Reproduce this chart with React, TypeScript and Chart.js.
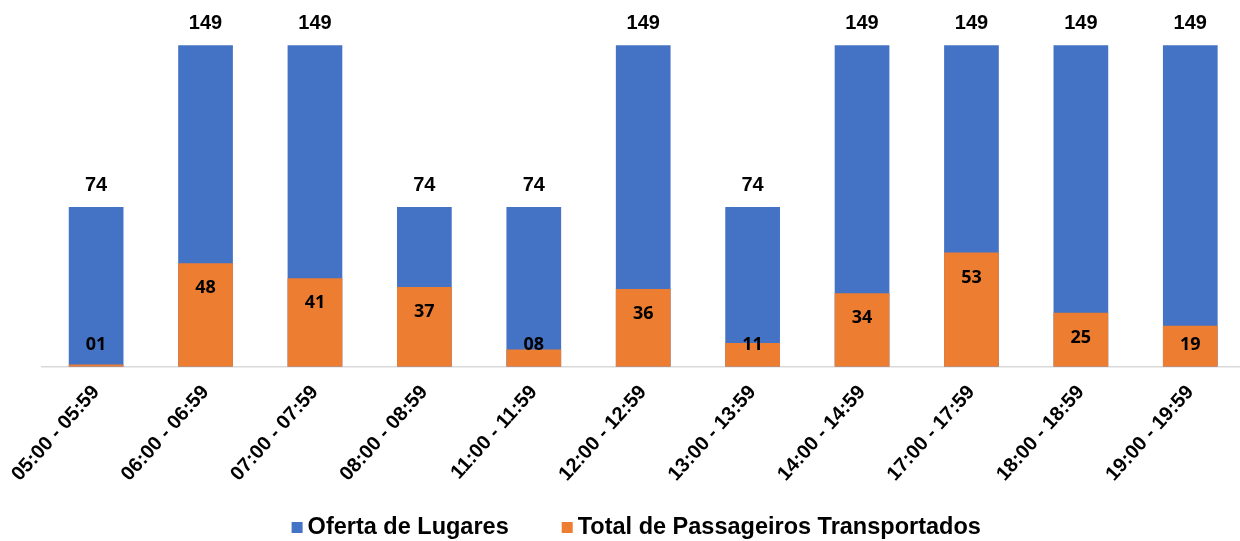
import React, { useEffect, useRef } from "react";
import { Chart, registerables } from "chart.js";

Chart.register(...registerables);

const categories = [
  "05:00 - 05:59",
  "06:00 - 06:59",
  "07:00 - 07:59",
  "08:00 - 08:59",
  "11:00 - 11:59",
  "12:00 - 12:59",
  "13:00 - 13:59",
  "14:00 - 14:59",
  "17:00 - 17:59",
  "18:00 - 18:59",
  "19:00 - 19:59",
];
const ofertaLugares = [74, 149, 149, 74, 74, 149, 74, 149, 149, 149, 149];
const passageirosTransportados = [1, 48, 41, 37, 8, 36, 11, 34, 53, 25, 19];
const seriesNames = ["Oferta de Lugares", "Total de Passageiros Transportados"];

const BLUE = "#4472C4";
const ORANGE = "#ED7D31";
const seriesColors = [BLUE, ORANGE];

const labelsPlugin = {
  id: "valueLabels",
  afterDatasetsDraw(chart: any) {
    const ctx = chart.ctx;
    const yScale = chart.scales.y;
    const base = yScale.getPixelForValue(0);
    ctx.save();
    ctx.fillStyle = "#000";
    ctx.textAlign = "center";
    ctx.textBaseline = "middle";
    const m0 = chart.getDatasetMeta(0);
    ctx.font = "bold 20px 'Liberation Sans', Arial, sans-serif";
    m0.data.forEach((bar: any, i: number) => {
      ctx.fillText(String(ofertaLugares[i]), bar.x, bar.y - 22);
    });
    const m1 = chart.getDatasetMeta(1);
    ctx.font = "bold 18px 'Noto Sans', sans-serif";
    m1.data.forEach((bar: any, i: number) => {
      const v = passageirosTransportados[i];
      const txt = v < 10 ? "0" + v : String(v);
      const y = Math.min(bar.y + 25, base - 22);
      ctx.fillText(txt, bar.x, y);
    });
    ctx.restore();
  },
};

const legendPlugin = {
  id: "customLegend",
  afterDraw(chart: any) {
    const ctx = chart.ctx;
    const area = chart.chartArea;
    ctx.save();
    ctx.font = "bold 23.5px 'Liberation Sans', Arial, sans-serif";
    const box = 11;
    const textOff = 16;
    const gap = 53;
    const widths = seriesNames.map((n) => ctx.measureText(n).width);
    const total = widths.reduce((a, b) => a + b, 0) + textOff * seriesNames.length + gap * (seriesNames.length - 1);
    let x = (area.left + area.right) / 2 - 7 - total / 2;
    const baseline = chart.height - 7;
    ctx.textAlign = "left";
    ctx.textBaseline = "alphabetic";
    seriesNames.forEach((n, i) => {
      ctx.fillStyle = seriesColors[i];
      ctx.fillRect(x, baseline - 12, box, box);
      ctx.fillStyle = "#000";
      ctx.fillText(n, x + textOff, baseline);
      x += textOff + widths[i] + gap;
    });
    ctx.restore();
  },
};

export default function App() {
  const ref = useRef<HTMLCanvasElement | null>(null);
  useEffect(() => {
    document.body.style.margin = "0";
    const canvas = ref.current!;
    const chart = new Chart(canvas, {
      type: "bar",
      data: {
        labels: categories,
        datasets: [
          {
            label: seriesNames[0],
            data: ofertaLugares,
            backgroundColor: BLUE,
            grouped: false,
            order: 1,
            barPercentage: 1,
            categoryPercentage: 0.5,
          },
          {
            label: seriesNames[1],
            data: passageirosTransportados,
            backgroundColor: ORANGE,
            grouped: false,
            order: 0,
            barPercentage: 1,
            categoryPercentage: 0.5,
          },
        ],
      },
      options: {
        responsive: false,
        animation: false,
        devicePixelRatio: 1,
        layout: { padding: { left: 39, right: 5, top: 0, bottom: 41 } },
        scales: {
          x: {
            offset: true,
            grid: { display: false, drawTicks: false, tickLength: 0 },
            border: { display: true, color: "#D9D9D9", width: 1.5 },
            ticks: {
              color: "#000",
              font: { family: "'Liberation Sans', Arial, sans-serif", size: 20, weight: "bold" },
              minRotation: 48,
              maxRotation: 48,
              padding: 14,
              autoSkip: false,
            },
          },
          y: {
            display: false,
            min: 0,
            max: 170,
          },
        },
        plugins: {
          tooltip: { enabled: false },
          legend: { display: false },
        },
      },
      plugins: [labelsPlugin, legendPlugin],
    });
    return () => chart.destroy();
  }, []);
  return (
    <div style={{ position: "relative", width: 1240, height: 541, overflow: "hidden", background: "#fff" }}>
      <canvas ref={ref} width={1250} height={541} style={{ display: "block" }} />
    </div>
  );
}
